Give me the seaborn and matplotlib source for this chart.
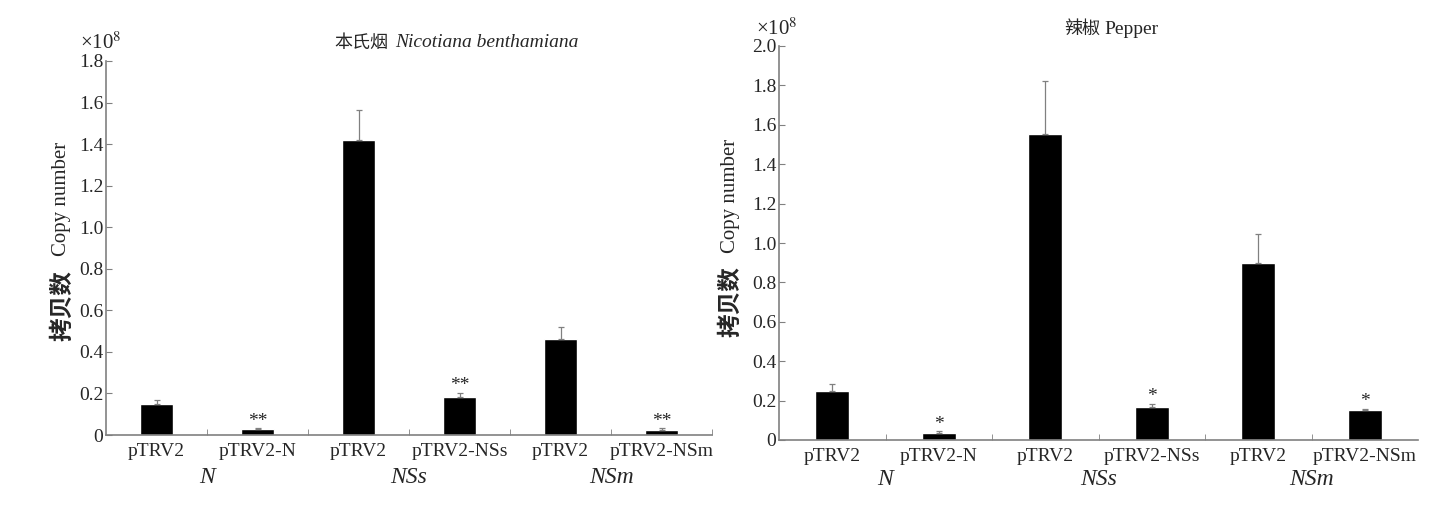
import matplotlib
matplotlib.use("Agg")
import matplotlib.pyplot as plt
import pandas as pd
import seaborn as sns

# unique ids so seaborn keeps the three "pTRV2" bars apart
conditions = ["N_ctrl", "N_vigs", "NSs_ctrl", "NSs_vigs", "NSm_ctrl", "NSm_vigs"]
tick_labels = ["pTRV2", "pTRV2-N", "pTRV2", "pTRV2-NSs", "pTRV2", "pTRV2-NSm"]
groups = ["N", "NSs", "NSm"]

# copy number, x 10^8
nb_mean = [0.151, 0.030, 1.419, 0.183, 0.464, 0.026]
nb_err = [0.016, 0.003, 0.144, 0.021, 0.054, 0.006]
nb_sig = ["", "**", "", "**", "", "**"]
nb_yticks = [0, 0.2, 0.4, 0.6, 0.8, 1.0, 1.2, 1.4, 1.6, 1.8]

pep_mean = [0.248, 0.034, 1.554, 0.165, 0.898, 0.150]
pep_err = [0.038, 0.010, 0.270, 0.020, 0.148, 0.007]
pep_sig = ["", "*", "", "*", "", "*"]
pep_yticks = [0, 0.2, 0.4, 0.6, 0.8, 1.0, 1.2, 1.4, 1.6, 1.8, 2.0]

sns.set_style("ticks")
plt.rcParams["font.family"] = ["Liberation Serif", "Noto Sans CJK SC", "DejaVu Sans"]
plt.rcParams["mathtext.fontset"] = "stix"

GREY = "#808080"
W, H = 1437, 513


def px(x, y):
    return x / W, 1 - y / H


def draw_panel(ax, mean, err, sig, yticks, end_tick, group_y):
    df = pd.DataFrame({"cond": conditions, "value": mean})
    sns.barplot(data=df, x="cond", y="value", color="black", saturation=1,
                width=0.32, errorbar=None, ax=ax)
    ax.errorbar(range(len(mean)), mean, yerr=[[0] * len(err), err], fmt="none",
                ecolor=GREY, elinewidth=0.9, capsize=2, capthick=0.9, zorder=3)
    for i, s in enumerate(sig):
        if s:
            ax.annotate(s, xy=(i, mean[i] + err[i]), xytext=(0, -1),
                        textcoords="offset points", ha="center", va="bottom",
                        fontsize=14)
    ax.set_xlim(-0.5, 5.5)
    ax.set_ylim(0, yticks[-1])
    sns.despine(ax=ax)
    for side in ["left", "bottom"]:
        ax.spines[side].set_color(GREY)
        ax.spines[side].set_linewidth(1.2)
    ax.set_xticks(range(6))
    ax.set_xticklabels(tick_labels, fontsize=14)
    minor = [0.5, 1.5, 2.5, 3.5, 4.5] + ([5.5] if end_tick else [])
    ax.set_xticks(minor, minor=True)
    ax.tick_params(axis="x", which="major", length=0, pad=6)
    ax.tick_params(axis="x", which="minor", direction="in", length=4, color=GREY)
    ax.set_yticks(yticks)
    ax.set_yticklabels(["0"] + ["%.1f" % t for t in yticks[1:]], fontsize=14)
    ax.tick_params(axis="y", direction="in", length=4, color=GREY, pad=2)
    ax.set_xlabel("")
    ax.set_ylabel("")
    for k, g in enumerate(groups):
        ax.text(2 * k + 0.5, group_y, g, transform=ax.get_xaxis_transform(),
                ha="center", va="center", fontsize=17, style="italic")


fig = plt.figure(figsize=(W / 100, H / 100), dpi=100)

ax1 = fig.add_axes([106 / W, 1 - 435 / H, (712 - 106) / W, (435 - 61) / H])
draw_panel(ax1, nb_mean, nb_err, nb_sig, nb_yticks, True, -0.113)

ax2 = fig.add_axes([779 / W, 1 - 440 / H, (1418 - 779) / W, (440 - 46) / H])
draw_panel(ax2, pep_mean, pep_err, pep_sig, pep_yticks, False, -0.10)

# y labels: Chinese and English parts at their own sizes
for x, y_cn, y_en in [(62, 306, 199), (730, 302, 196)]:
    fig.text(*px(x, y_cn), "拷贝数", fontsize=17, rotation=90, ha="center",
             va="center", family=["Noto Sans CJK SC"], weight="bold")
    fig.text(*px(x, y_en), "Copy number", fontsize=15, rotation=90,
             ha="center", va="center")

# titles and scale notes
fig.text(*px(334, 43), "本氏烟", fontsize=13, ha="left", va="center",
         family=["Noto Sans CJK SC"], weight="medium")
fig.text(*px(395, 43), "Nicotiana benthamiana", fontsize=14, ha="left",
         va="center", style="italic")
fig.text(*px(1064, 29), "辣椒", fontsize=13, ha="left", va="center",
         family=["Noto Sans CJK SC"], weight="medium")
fig.text(*px(1104, 29), "Pepper", fontsize=14, ha="left", va="center")
fig.text(*px(80, 43), r"×10$^{8}$", fontsize=15, ha="left", va="center")
fig.text(*px(756, 29), r"×10$^{8}$", fontsize=15, ha="left", va="center")

fig.savefig("out.png", dpi=100)
